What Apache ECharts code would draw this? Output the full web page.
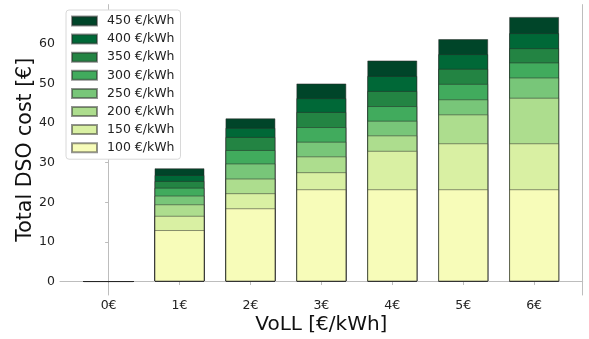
<!DOCTYPE html>
<html>
<head>
<meta charset="utf-8">
<script src="https://cdn.jsdelivr.net/npm/echarts@6/dist/echarts.min.js"></script>
<style>html,body{margin:0;padding:0;background:#fff}#c{width:589px;height:339px}</style>
</head>
<body>
<div id="c"></div>
<script>
// Categories (VoLL)
const categories = ['0€', '1€', '2€', '3€', '4€', '5€', '6€'];
const yTicks = [0, 10, 20, 30, 40, 50, 60];
// Total DSO cost per price cap (€/kWh), bars overlap (higher caps behind)
const p450 = [0, 28.6, 41.2, 50.0, 55.8, 61.2, 66.8];
const p400 = [0, 26.9, 38.8, 46.3, 51.9, 57.4, 62.7];
const p350 = [0, 25.4, 36.5, 42.8, 48.1, 53.7, 58.9];
const p300 = [0, 23.7, 33.2, 39.0, 44.3, 49.9, 55.3];
const p250 = [0, 21.7, 29.8, 35.3, 40.6, 46.0, 51.5];
const p200 = [0, 19.5, 26.0, 31.6, 36.9, 42.2, 46.4];
const p150 = [0, 16.6, 22.3, 27.6, 33.0, 34.9, 34.9];
const p100 = [0, 13.0, 18.5, 23.3, 23.3, 23.3, 23.3];
const seriesNames = ['450 €/kWh','400 €/kWh','350 €/kWh','300 €/kWh','250 €/kWh','200 €/kWh','150 €/kWh','100 €/kWh'];
const seriesData = [p450, p400, p350, p300, p250, p200, p150, p100];
const colors = ['#004529','#006837','#238443','#41ab5d','#78c679','#addd8e','#d9f0a3','#f7fcb9'];

const FONT = 'DejaVu Sans';
const axisGrey = '#bdbdbd';
const chart = echarts.init(document.getElementById('c'), null, {renderer: 'canvas'});
const xIdx = categories.map((_, i) => i);

chart.setOption({
  animation: false,
  textStyle: {fontFamily: FONT},
  color: colors,
  grid: {left: 60, right: 6.3, top: 4.6, bottom: 44, containLabel: false, outerBoundsMode: 'none'},
  legend: {
    orient: 'vertical', left: 66, top: 10,
    data: seriesNames,
    itemWidth: 25, itemHeight: 9, itemGap: 5.1,
    padding: [4.5, 6, 5, 5],
    borderColor: '#d8d8d8', borderWidth: 1, borderRadius: 3,
    backgroundColor: '#fff',
    textStyle: {fontFamily: FONT, fontSize: 12.5, color: '#222', padding: [0, 0, 0, 5]},
    icon: 'rect'
  },
  xAxis: {
    type: 'value', min: -0.685, max: 6.685,
    name: 'VoLL [€/kWh]', nameLocation: 'middle', nameGap: 20, nameMoveOverlap: false,
    nameTextStyle: {fontFamily: FONT, fontSize: 20, color: '#111'},
    axisLine: {show: true, lineStyle: {color: axisGrey, width: 1}},
    axisTick: {show: true, customValues: xIdx, length: 3.5, lineStyle: {color: axisGrey}},
    axisLabel: {customValues: xIdx, formatter: v => categories[Math.round(v)], fontFamily: FONT, fontSize: 12.5, color: '#222', margin: 4},
    splitLine: {show: false}
  },
  yAxis: [{
    type: 'value', min: -3.4, max: 69.9,
    name: 'Total DSO cost [€]', nameLocation: 'middle', nameGap: 24, nameMoveOverlap: false,
    nameTextStyle: {fontFamily: FONT, fontSize: 20.5, color: '#111'},
    axisLine: {show: true, lineStyle: {color: axisGrey, width: 1}},
    axisTick: {show: true, customValues: yTicks, length: 3.5, lineStyle: {color: axisGrey}},
    axisLabel: {customValues: yTicks, fontFamily: FONT, fontSize: 12.5, color: '#222', margin: 5},
    splitLine: {show: false}
  }, {
    type: 'value', min: -3.4, max: 69.9, position: 'right',
    axisLine: {show: true, lineStyle: {color: axisGrey, width: 1}},
    axisTick: {show: false}, axisLabel: {show: false}, splitLine: {show: false}
  }],
  series: seriesNames.map((name, s) => ({
    name, type: 'bar', barWidth: 50, barGap: '-100%',
    itemStyle: {color: colors[s], borderColor: 'rgba(40,40,40,0.5)', borderWidth: 1},
    emphasis: {disabled: true},
    data: seriesData[s].map((v, i) => [xIdx[i], v])
  }))
});
</script>
</body>
</html>
